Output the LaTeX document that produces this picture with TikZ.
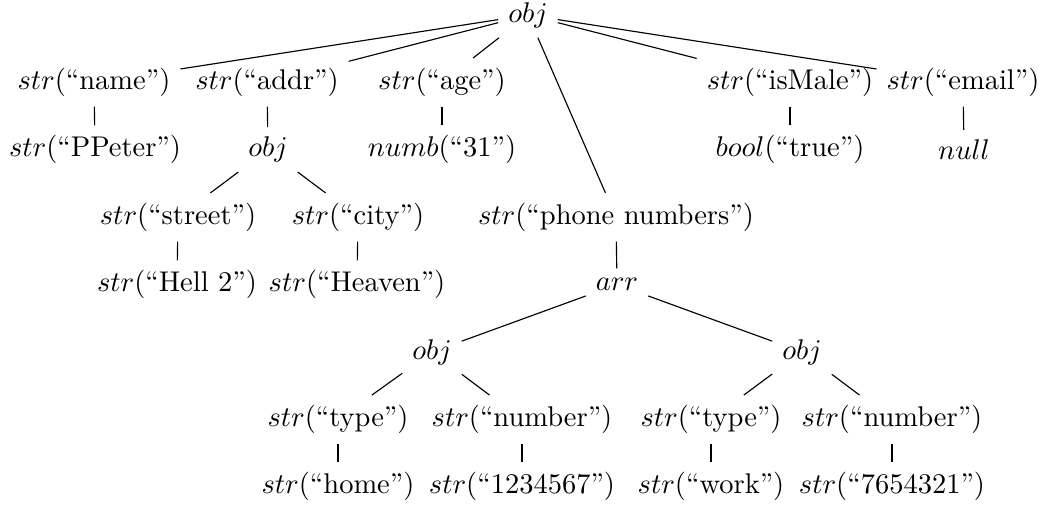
\documentclass[tikz,border=0pt]{standalone}
\begin{document}
\begin{tikzpicture}[x=0.3509pt, y=-0.3509pt, edge/.style={draw=black, line width=0.4pt}]
\useasboundingbox (0,0) rectangle (1047,511);
% row 0
\node (root) at (528,15) {$obj$};
% row 1
\node (n1) at (94,82.4) {$str$(``name'')};
\node (a1) at (267,82.4) {$str$(``addr'')};
\node (g1) at (442,82.4) {$str$(``age'')};
\node (m1) at (790,82.4) {$str$(``isMale'')};
\node (e1) at (963,82.4) {$str$(``email'')};
% row 2
\node (n2) at (95,149.8) {$str$(``PPeter'')};
\node (a2) at (268,149.8) {$obj$};
\node (g2) at (442,149.8) {$numb$(``31'')};
\node (m2) at (790,149.8) {$bool$(``true'')};
\node (e2) at (964,149.8) {$null$};
% row 3
\node (s3) at (178,217.2) {$str$(``street'')};
\node (c3) at (358,217.2) {$str$(``city'')};
\node (p3) at (616,217.2) {$str$(``phone numbers'')};
% row 4
\node (s4) at (177,284.6) {$str$(``Hell 2'')};
\node (c4) at (357,284.6) {$str$(``Heaven'')};
\node (p4) at (617,284.6) {$arr$};
% row 5
\node (o5) at (432,352) {$obj$};
\node (q5) at (802,352) {$obj$};
% row 6
\node (t6) at (338,419.4) {$str$(``type'')};
\node (u6) at (522,419.4) {$str$(``number'')};
\node (v6) at (711,419.4) {$str$(``type'')};
\node (w6) at (892,419.4) {$str$(``number'')};
% row 7
\node (t7) at (338,486.8) {$str$(``home'')};
\node (u7) at (522,486.8) {$str$(``1234567'')};
\node (v7) at (711,486.8) {$str$(``work'')};
\node (w7) at (892,486.8) {$str$(``7654321'')};
% edges
\path[edge] (root) -- (n1);
\path[edge] (root) -- (a1);
\path[edge] (root) -- (g1);
\path[edge] (root) -- (p3);
\path[edge] (root) -- (m1);
\path[edge] (root) -- (e1);
\path[edge] (n1) -- (n2);
\path[edge] (a1) -- (a2);
\path[edge] (g1) -- (g2);
\path[edge] (m1) -- (m2);
\path[edge] (e1) -- (e2);
\path[edge] (a2) -- (s3);
\path[edge] (a2) -- (c3);
\path[edge] (s3) -- (s4);
\path[edge] (c3) -- (c4);
\path[edge] (p3) -- (p4);
\path[edge] (p4) -- (o5);
\path[edge] (p4) -- (q5);
\path[edge] (o5) -- (t6);
\path[edge] (o5) -- (u6);
\path[edge] (q5) -- (v6);
\path[edge] (q5) -- (w6);
\path[edge] (t6) -- (t7);
\path[edge] (u6) -- (u7);
\path[edge] (v6) -- (v7);
\path[edge] (w6) -- (w7);
\end{tikzpicture}
\end{document}
